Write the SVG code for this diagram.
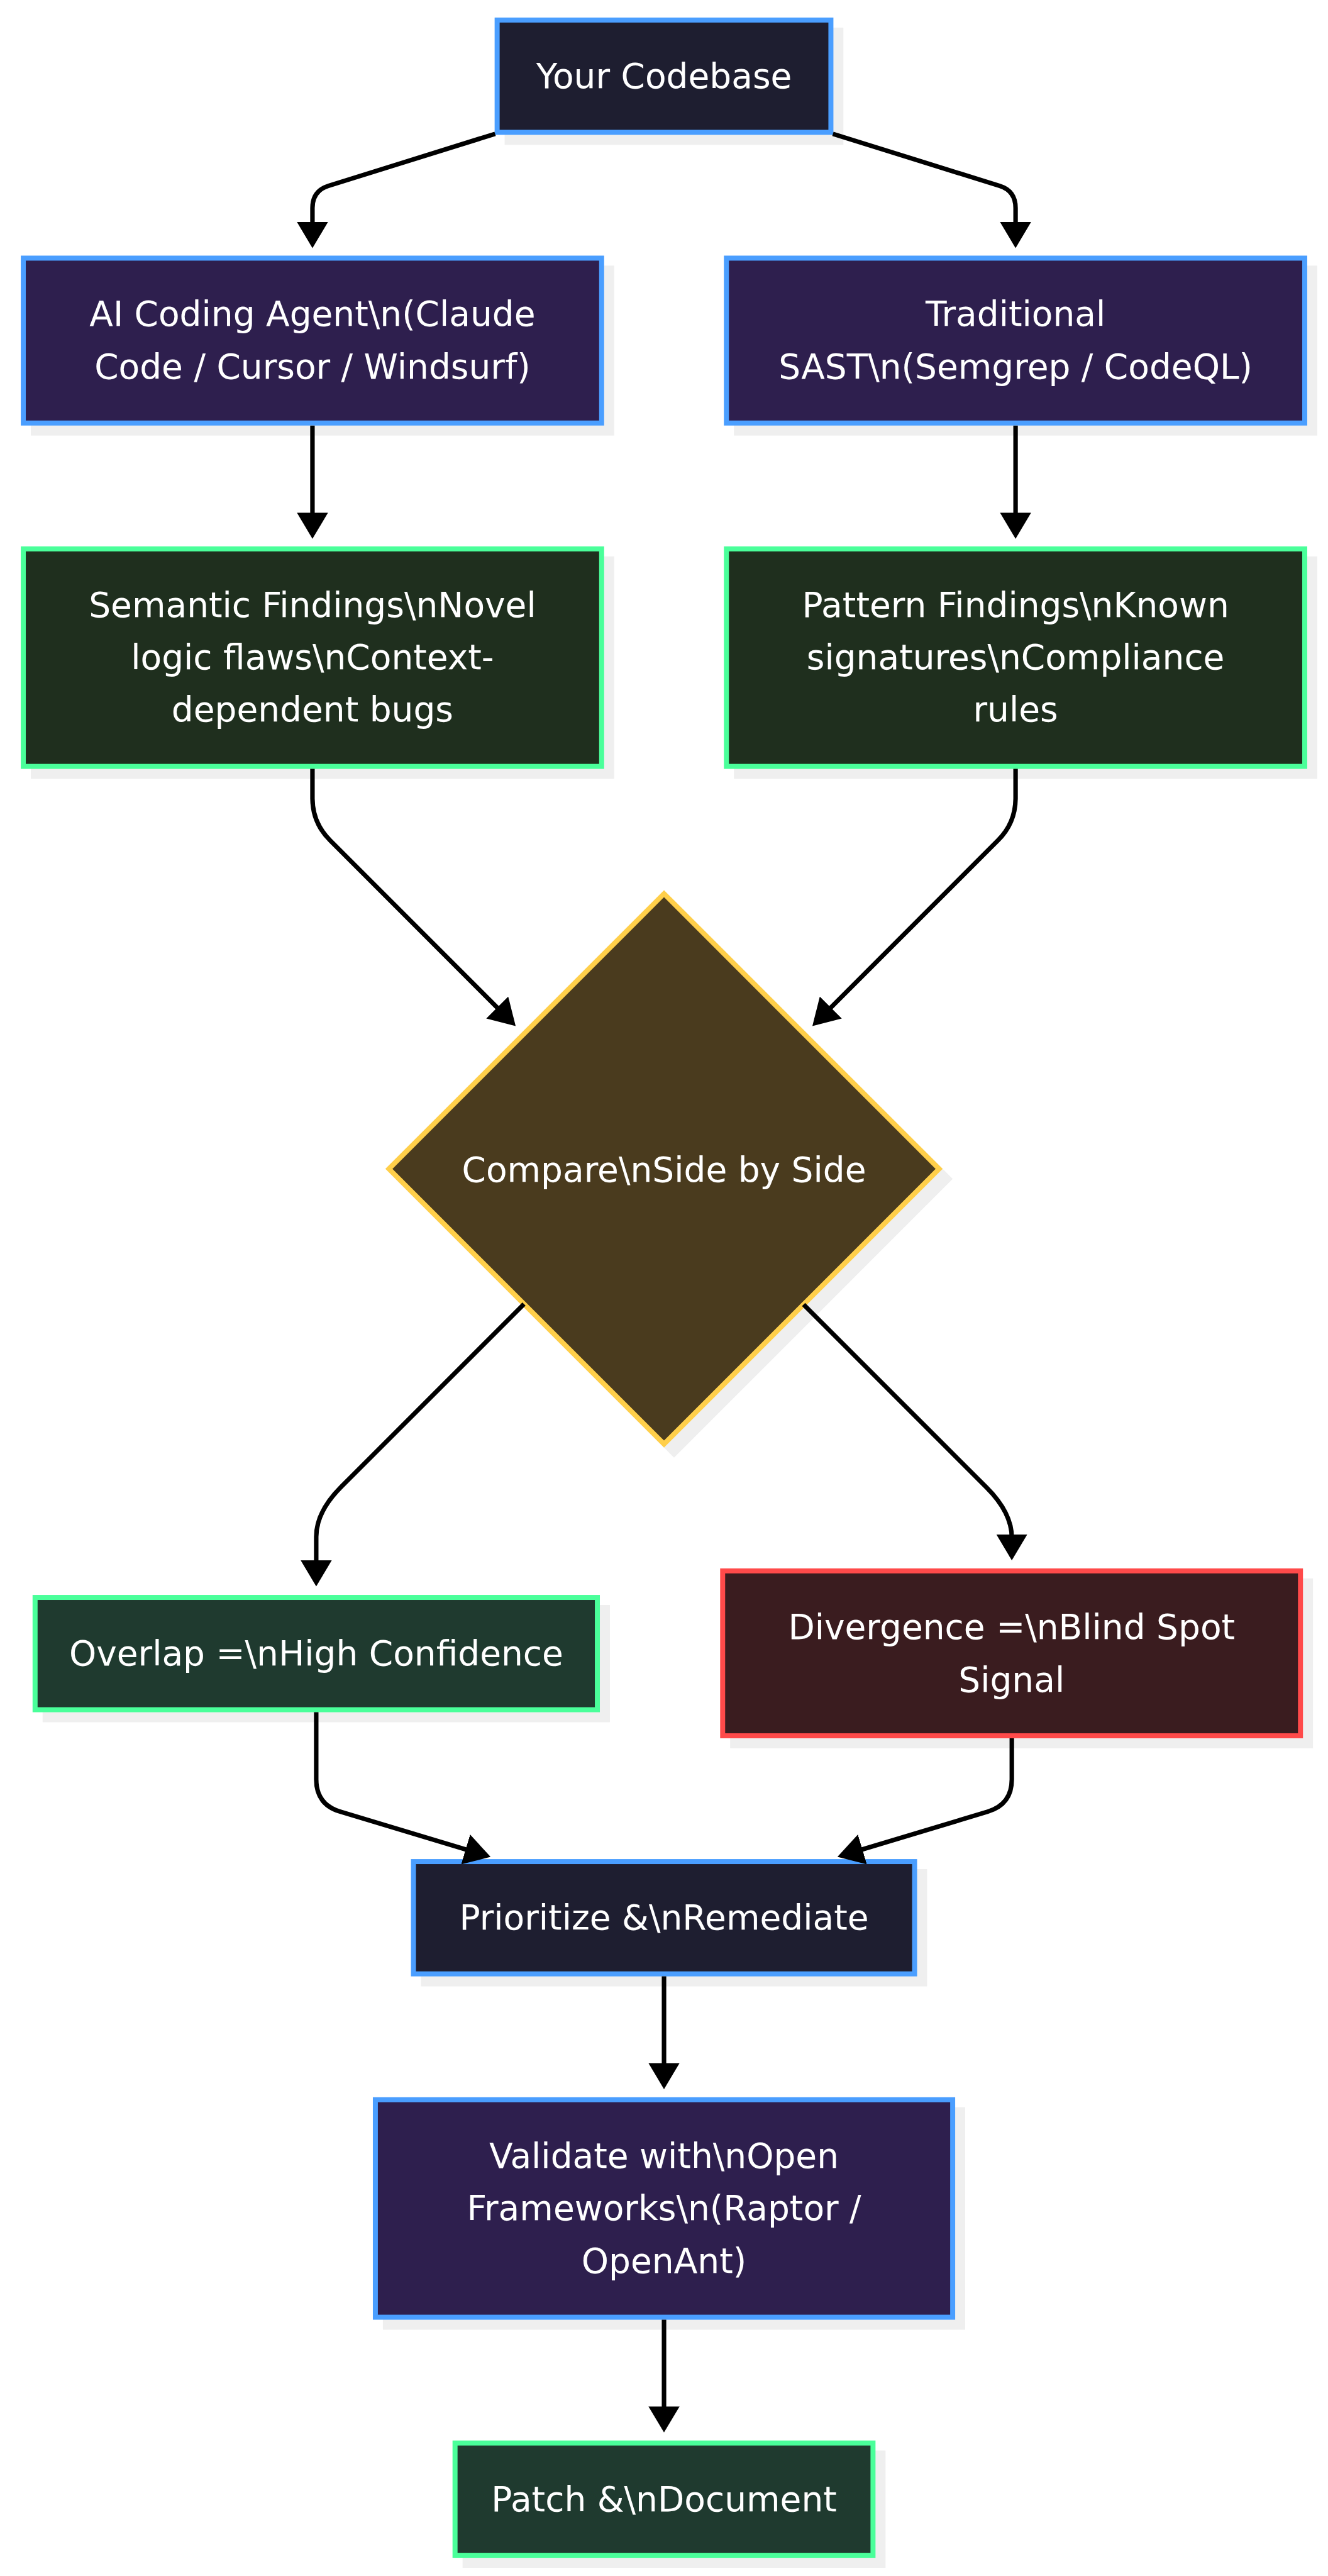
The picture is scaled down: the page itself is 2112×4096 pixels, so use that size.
<svg xmlns="http://www.w3.org/2000/svg" width="2112" height="4096" viewBox="0 0 2112 4096">
<style>
.sh{fill:#efefef;stroke:#efefef;stroke-width:10}
.nd{stroke-width:10}
.navy{fill:#1e1e30;stroke:#4a9eff}
.purple{fill:#2e1f4e;stroke:#4a9eff}
.green{fill:#1f2f1e;stroke:#4aff9a}
.teal{fill:#1f3a2f;stroke:#4aff9a}
.red{fill:#3a1c1f;stroke:#ff4a4a}
.gold{fill:#4a3b1e;stroke:#ffcf4a}
.t{font-family:"DejaVu Sans",sans-serif;font-size:69px;fill:#ffffff;text-anchor:middle}
.e{fill:none;stroke:#000000;stroke-width:9;marker-end:url(#ah)}
</style>
<defs>
<marker id="ah" markerUnits="userSpaceOnUse" viewBox="0 0 52 62" markerWidth="52" markerHeight="62" refX="44" refY="31" orient="auto">
<path d="M0,0 L52,31 L0,62 z" fill="#000000"/>
</marker>
</defs>
<rect width="2112" height="4096" fill="#ffffff"/>
<g transform="scale(0.797)">
<g id="n1">
<rect class="sh" x="1012" y="60" width="666" height="224"/>
<rect class="nd navy" x="992" y="40" width="666" height="224"/>
<text class="t" x="1325" y="176">Your Codebase</text>
</g>
<g id="n2">
<rect class="sh" x="66.5" y="535" width="1154" height="329"/>
<rect class="nd purple" x="46.5" y="515" width="1154" height="329"/>
<text class="t" x="623.5" y="650">AI Coding Agent\n(Claude</text>
<text class="t" x="623.5" y="755">Code / Cursor / Windsurf)</text>
</g>
<g id="n3">
<rect class="sh" x="1469.5" y="535" width="1154" height="329"/>
<rect class="nd purple" x="1449.5" y="515" width="1154" height="329"/>
<text class="t" x="2026.5" y="650">Traditional</text>
<text class="t" x="2026.5" y="755">SAST\n(Semgrep / CodeQL)</text>
</g>
<g id="n4">
<rect class="sh" x="66.5" y="1115" width="1154" height="434"/>
<rect class="nd green" x="46.5" y="1095" width="1154" height="434"/>
<text class="t" x="623.5" y="1231">Semantic Findings\nNovel</text>
<text class="t" x="623.5" y="1335">logic flaws\nContext-</text>
<text class="t" x="623.5" y="1439">dependent bugs</text>
</g>
<g id="n5">
<rect class="sh" x="1469.5" y="1115" width="1154" height="434"/>
<rect class="nd green" x="1449.5" y="1095" width="1154" height="434"/>
<text class="t" x="2026.5" y="1231">Pattern Findings\nKnown</text>
<text class="t" x="2026.5" y="1335">signatures\nCompliance</text>
<text class="t" x="2026.5" y="1439">rules</text>
</g>
<g id="n6">
<polygon class="sh" points="1345,1803 1894,2352 1345,2901 796,2352"/>
<polygon class="nd gold" points="1325,1783 1874,2332 1325,2881 776,2332"/>
<text class="t" x="1325" y="2357">Compare\nSide by Side</text>
</g>
<g id="n7">
<rect class="sh" x="90" y="3207" width="1122" height="224"/>
<rect class="nd teal" x="70" y="3187" width="1122" height="224"/>
<text class="t" x="631" y="3323">Overlap =\nHigh Confidence</text>
</g>
<g id="n8">
<rect class="sh" x="1462" y="3154" width="1153" height="329"/>
<rect class="nd red" x="1442" y="3134" width="1153" height="329"/>
<text class="t" x="2018.5" y="3270">Divergence =\nBlind Spot</text>
<text class="t" x="2018.5" y="3375">Signal</text>
</g>
<g id="n9">
<rect class="sh" x="845" y="3734" width="1000" height="224"/>
<rect class="nd navy" x="825" y="3714" width="1000" height="224"/>
<text class="t" x="1325" y="3850">Prioritize &amp;\nRemediate</text>
</g>
<g id="n10">
<rect class="sh" x="769" y="4209" width="1152" height="434"/>
<rect class="nd purple" x="749" y="4189" width="1152" height="434"/>
<text class="t" x="1325" y="4325">Validate with\nOpen</text>
<text class="t" x="1325" y="4429">Frameworks\n(Raptor /</text>
<text class="t" x="1325" y="4534">OpenAnt)</text>
</g>
<g id="n11">
<rect class="sh" x="928" y="4894" width="834" height="224"/>
<rect class="nd teal" x="908" y="4874" width="834" height="224"/>
<text class="t" x="1325" y="5010">Patch &amp;\nDocument</text>
</g>
<g id="connectors">
<path class="e" d="M988 267 L655 371 Q623.5 381 623.5 415 L623.5 487"/>
<path class="e" d="M1662 267 L1995 371 Q2026.5 381 2026.5 415 L2026.5 487"/>
<path class="e" d="M623.5 849 L623.5 1067"/>
<path class="e" d="M2026.5 849 L2026.5 1067"/>
<path class="e" d="M623.5 1534 L623.5 1592 Q623.5 1642 659 1677 L1023.3 2041.3"/>
<path class="e" d="M2026.5 1534 L2026.5 1592 Q2026.5 1642 1991 1677 L1626.7 2041.3"/>
<path class="e" d="M1045.6 2601.6 L681 2966.2 Q631 3016.2 631 3066 L631 3157"/>
<path class="e" d="M1603.5 2602.5 L1969 2968 Q2019 3018 2019 3068 L2019 3105"/>
<path class="e" d="M631 3416 L631 3550 Q631 3600 679 3614.4 L971.3 3702.3"/>
<path class="e" d="M2019 3468 L2019 3550 Q2019 3600 1971 3614.4 L1678.7 3702.3"/>
<path class="e" d="M1325 3943 L1325 4160"/>
<path class="e" d="M1325 4628 L1325 4845"/>
</g>
</g>
</svg>
